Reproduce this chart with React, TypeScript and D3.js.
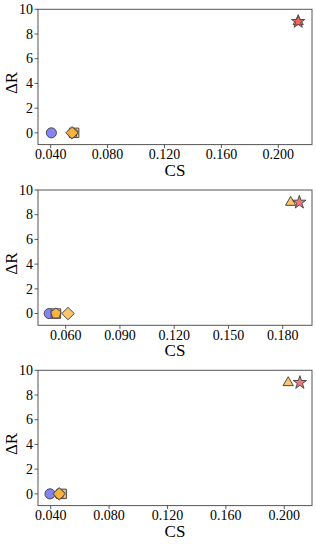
import React from "react";
import * as d3 from "d3";

// ---- data ----
const markerNames = ["circle", "square", "pentagon", "diamond", "triangle", "star"];
const markerColors = ["#5b5bf0", "#fbb03b", "#fbb03b", "#fbb03b", "#fbb03b", "#ee4a50"];

const panel1CS = [0.0405, 0.0565, 0.0555, 0.055, 0.214, 0.214];
const panel1DR = [0, 0, 0, 0, 9, 9];
const panel2CS = [0.0509, 0.0546, 0.0546, 0.0613, 0.1844, 0.1892];
const panel2DR = [0, 0, 0, 0, 9, 9];
const panel3CS = [0.0395, 0.0475, 0.0459, 0.0458, 0.2027, 0.2107];
const panel3DR = [0, 0, 0, 0, 9, 9];

const panel1XTicks = [0.04, 0.08, 0.12, 0.16, 0.2];
const panel2XTicks = [0.06, 0.09, 0.12, 0.15, 0.18];
const panel3XTicks = [0.04, 0.08, 0.12, 0.16, 0.2];
const yTicks = [0, 2, 4, 6, 8, 10];

const panel1XDomain = [0.0311, 0.2237];
const panel2XDomain = [0.0447, 0.1962];
const panel3XDomain = [0.0313, 0.219];
const yDomain = [-0.95, 10];

const xLabel = "CS";
const yLabel = "ΔR";

// ---- shapes ----
const pentagon = {
  draw(ctx: any, size: number) {
    const r = Math.sqrt(size / 2.3776);
    for (let i = 0; i < 5; i++) {
      const a = -Math.PI / 2 + (i * 2 * Math.PI) / 5;
      const px = r * Math.cos(a);
      const py = r * Math.sin(a);
      if (i === 0) ctx.moveTo(px, py);
      else ctx.lineTo(px, py);
    }
    ctx.closePath();
  },
};
const squareDiamond = {
  draw(ctx: any, size: number) {
    const r = Math.sqrt(size / 2);
    ctx.moveTo(0, -r);
    ctx.lineTo(r, 0);
    ctx.lineTo(0, r);
    ctx.lineTo(-r, 0);
    ctx.closePath();
  },
};

const symbolTypes: Record<string, any> = {
  circle: d3.symbolCircle,
  square: d3.symbolSquare,
  pentagon: pentagon,
  diamond: squareDiamond,
  triangle: d3.symbolTriangle,
  star: d3.symbolStar,
};
const symbolSizes: Record<string, number> = {
  circle: 80,
  square: 90,
  pentagon: 72,
  diamond: 78,
  triangle: 46,
  star: 55,
};

const FONT = "'Liberation Serif', 'Times New Roman', Times, serif";

const margin = { left: 38, right: 4 };
const W = 316;

function Panel({ top, cs, dr, xTicks, xDomain, fmt }: any) {
  const bottom = top + 135.3;
  const x = d3.scaleLinear().domain(xDomain).range([margin.left, W - margin.right]);
  const y = d3.scaleLinear().domain(yDomain).range([bottom, top]);
  const yTop = y(10);
  return (
    <g>
      <rect x={margin.left} y={yTop} width={W - margin.right - margin.left} height={bottom - yTop} fill="none" stroke="#555" strokeWidth={1} />
      {yTicks.map((t) => (
        <g key={"y" + t}>
          <line x1={margin.left - 3.5} x2={margin.left} y1={y(t)} y2={y(t)} stroke="#333" strokeWidth={0.8} />
          <text x={margin.left - 5} y={y(t)} dy="0.34em" textAnchor="end" fontFamily={FONT} fontSize={14} fill="#000">
            {t}
          </text>
        </g>
      ))}
      {xTicks.map((t: number) => (
        <g key={"x" + t}>
          <line x1={x(t)} x2={x(t)} y1={bottom} y2={bottom + 3.5} stroke="#333" strokeWidth={0.8} />
          <text x={x(t)} y={bottom + 14.5} textAnchor="middle" fontFamily={FONT} fontSize={14} fill="#000">
            {fmt(t)}
          </text>
        </g>
      ))}
      <text x={(margin.left + W - margin.right) / 2} y={bottom + 31} textAnchor="middle" fontFamily={FONT} fontSize={17} fill="#000">
        {xLabel}
      </text>
      <text
        transform={`translate(${17},${(yTop + bottom) / 2 + 6}) rotate(-90)`}
        textAnchor="middle"
        fontFamily={FONT}
        fontSize={17}
        fill="#000"
      >
        {yLabel}
      </text>
      {markerNames.map((m, i) => {
        const path = d3.symbol().type(symbolTypes[m]).size(symbolSizes[m])();
        return (
          <path
            key={m}
            d={path || ""}
            transform={`translate(${x(cs[i])},${y(dr[i])})`}
            fill={markerColors[i]}
            fillOpacity={0.75}
            stroke="#4a4a4a"
            strokeWidth={1}
          />
        );
      })}
    </g>
  );
}

export default function App() {
  const fmt = d3.format(".3f");
  return (
    <svg width={316} height={544} style={{ position: "absolute", left: 0, top: 0, background: "#fff" }}>
      <Panel top={9.3} cs={panel1CS} dr={panel1DR} xTicks={panel1XTicks} xDomain={panel1XDomain} fmt={fmt} />
      <Panel top={190} cs={panel2CS} dr={panel2DR} xTicks={panel2XTicks} xDomain={panel2XDomain} fmt={fmt} />
      <Panel top={370.3} cs={panel3CS} dr={panel3DR} xTicks={panel3XTicks} xDomain={panel3XDomain} fmt={fmt} />
    </svg>
  );
}
